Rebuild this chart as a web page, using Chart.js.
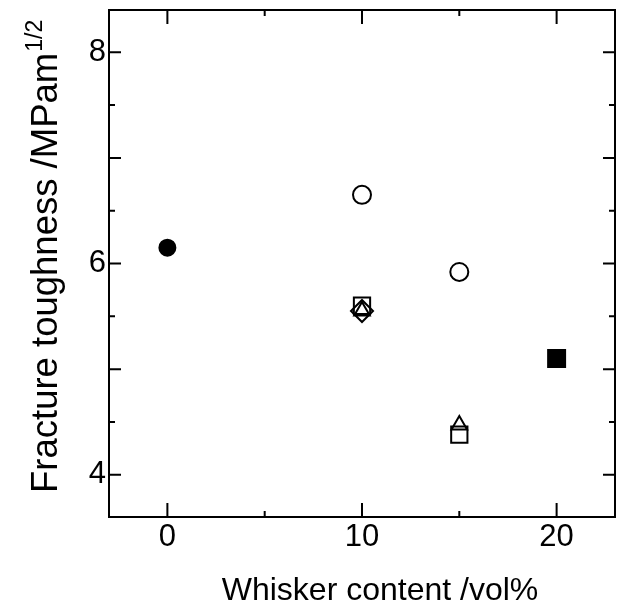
<!DOCTYPE html>
<html>
<head>
<meta charset="utf-8">
<script src="https://cdn.jsdelivr.net/npm/chart.js@4.4.0/dist/chart.umd.min.js"></script>
<style>
  html, body { margin: 0; padding: 0; background: #fff; }
  #wrap { width: 628px; height: 611px; }
</style>
</head>
<body>
<div id="wrap"><canvas id="chart" width="628" height="611"></canvas></div>
<script>
// axis settings
const xMin = -3;
const xMax = 23;
const yMin = 3.6;
const yMax = 8.4;
const xTicks = [0, 5, 10, 15, 20];
const xLabeled = [0, 10, 20];
const yTicks = [4, 4.5, 5, 5.5, 6, 6.5, 7, 7.5, 8];
const yMajor = [4, 5, 6, 7, 8];
const yLabeled = [4, 6, 8];

// data
const filledCircleX = [0];
const filledCircleY = [6.15];
const openCircleX = [10, 15];
const openCircleY = [6.65, 5.92];
const openSquareX = [10, 15];
const openSquareY = [5.6, 4.38];
const openTriangleX = [10, 15];
const openTriangleY = [5.55, 4.47];
const openDiamondX = [10];
const openDiamondY = [5.55];
const filledSquareX = [20];
const filledSquareY = [5.1];

const xTitle = "Whisker content /vol%";
const yTitle = "Fracture toughness /MPam";
const yTitleSup = "1/2";

const FONT = '"Liberation Sans", Arial, Helvetica, sans-serif';

function pts(xs, ys) {
  return xs.map((x, i) => ({ x: x, y: ys[i] }));
}

function series(label, xs, ys, style, radius, filled) {
  return {
    label: label,
    data: pts(xs, ys),
    pointStyle: style,
    pointRadius: radius,
    pointHoverRadius: radius,
    borderColor: "#000",
    backgroundColor: filled ? "#000" : "rgba(0,0,0,0)",
    borderWidth: 2,
    showLine: false,
  };
}

// frame, inward ticks and axis titles
const framePlugin = {
  id: "frame",
  afterDraw(chart) {
    const ctx = chart.ctx;
    const a = chart.chartArea;
    const xs = chart.scales.x;
    const ys = chart.scales.y;
    ctx.save();
    ctx.strokeStyle = "#000";
    ctx.lineWidth = 2;
    ctx.strokeRect(a.left, a.top, a.right - a.left, a.bottom - a.top);

    xTicks.forEach((v) => {
      const px = xs.getPixelForValue(v);
      const len = xLabeled.includes(v) ? 14 : 6;
      ctx.beginPath();
      ctx.moveTo(px, a.bottom);
      ctx.lineTo(px, a.bottom - len);
      ctx.moveTo(px, a.top);
      ctx.lineTo(px, a.top + len);
      ctx.stroke();
    });
    yTicks.forEach((v) => {
      const py = ys.getPixelForValue(v);
      const len = yMajor.includes(v) ? 12 : 6;
      ctx.beginPath();
      ctx.moveTo(a.left, py);
      ctx.lineTo(a.left + len, py);
      ctx.moveTo(a.right, py);
      ctx.lineTo(a.right - len, py);
      ctx.stroke();
    });

    // x title
    ctx.fillStyle = "#000";
    ctx.font = "32px " + FONT;
    ctx.textAlign = "center";
    ctx.textBaseline = "alphabetic";
    ctx.fillText(xTitle, a.left + 271, 600);

    // y title with superscript
    ctx.translate(57, a.bottom - 24);
    ctx.rotate(-Math.PI / 2);
    ctx.textAlign = "left";
    ctx.font = "36.5px " + FONT;
    ctx.fillText(yTitle, 0, 0);
    const w = ctx.measureText(yTitle).width;
    ctx.font = "23px " + FONT;
    ctx.fillText(yTitleSup, w + 1, -15);
    ctx.restore();
  },
};

const ctx = document.getElementById("chart").getContext("2d");
new Chart(ctx, {
  type: "scatter",
  data: {
    datasets: [
      series("0 vol%", filledCircleX, filledCircleY, "circle", 8, true),
      series("circle", openCircleX, openCircleY, "circle", 9, false),
      series("square", openSquareX, openSquareY, "rect", 11.5, false),
      series("diamond", openDiamondX, openDiamondY, "rectRot", 11, false),
      series("triangle", openTriangleX, openTriangleY, "triangle", 9, false),
      series("20 vol%", filledSquareX, filledSquareY, "rect", 12, true),
    ],
  },
  options: {
    responsive: false,
    animation: false,
    devicePixelRatio: 1,
    layout: { autoPadding: false, padding: { top: 10, right: 13, left: 0, bottom: 0 } },
    plugins: {
      legend: { display: false },
      tooltip: { enabled: false },
    },
    scales: {
      x: {
        type: "linear",
        min: xMin,
        max: xMax,
        grid: { display: false, drawTicks: false },
        border: { display: false },
        afterBuildTicks: (scale) => {
          scale.ticks = xTicks.map((v) => ({ value: v }));
        },
        afterFit: (scale) => {
          scale.height = 94;
          scale.paddingLeft = 0;
          scale.paddingRight = 0;
        },
        ticks: {
          autoSkip: false,
          maxRotation: 0,
          padding: 2,
          color: "#000",
          font: { family: FONT, size: 31 },
          callback: (v) => (xLabeled.includes(v) ? String(v) : ""),
        },
      },
      y: {
        type: "linear",
        min: yMin,
        max: yMax,
        grid: { display: false, drawTicks: false },
        border: { display: false },
        afterBuildTicks: (scale) => {
          scale.ticks = yTicks.map((v) => ({ value: v }));
        },
        afterFit: (scale) => {
          scale.width = 109;
          scale.paddingTop = 0;
          scale.paddingBottom = 0;
        },
        ticks: {
          autoSkip: false,
          padding: 3,
          color: "#000",
          font: { family: FONT, size: 31 },
          callback: (v) => (yLabeled.includes(v) ? String(v) : ""),
        },
      },
    },
  },
  plugins: [framePlugin],
});
</script>
</body>
</html>
